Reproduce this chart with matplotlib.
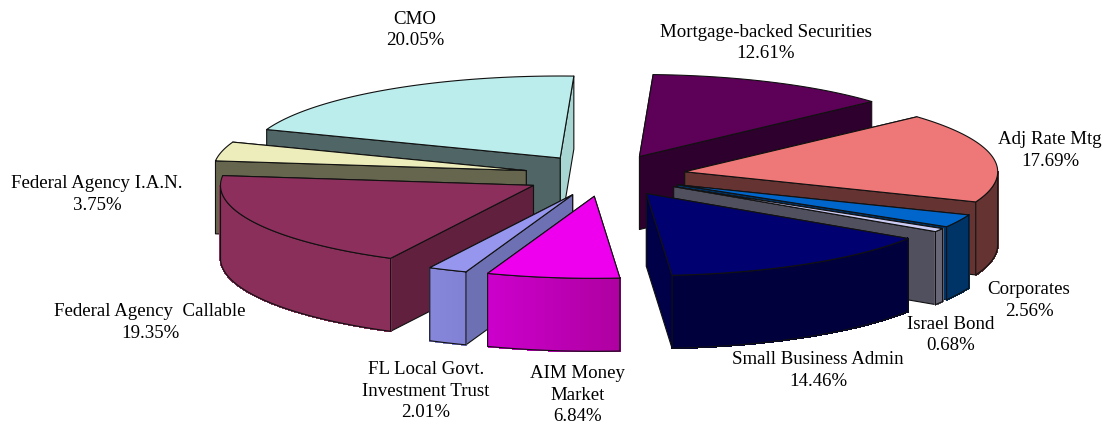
import numpy as np
import matplotlib
matplotlib.use('Agg')
import matplotlib.pyplot as plt
from matplotlib.colors import to_rgb

# Slices, clockwise from the top of the pie
labels = ['Mortgage-backed Securities', 'Adj Rate Mtg', 'Corporates', 'Israel Bond',
          'Small Business Admin', 'AIM Money\nMarket', 'FL Local Govt.\nInvestment Trust',
          'Federal Agency  Callable', 'Federal Agency I.A.N.', 'CMO']
values = [12.61, 17.69, 2.56, 0.68, 14.46, 6.84, 2.01, 19.35, 3.75, 20.05]

# Colours: top, radial faces (start, end), outer rim (left, right)
top_colors = ['#5D0058', '#EE7777', '#0066CC', '#CCCCF5', '#000070',
              '#EE00EE', '#9696EE', '#8C2F5C', '#EDEDBB', '#BBEDEC']
start_colors = ['#2E002D', '#663333', '#003366', '#50505F', '#50505F',
                '#780078', '#6E70B4', '#60203E', '#66664F', '#506566']
end_colors = ['#2E002D', '#663333', '#003366', '#50505F', '#000048',
              '#780078', '#6E70B4', '#60203E', '#66664F', '#A8D6D3']
rim_left = ['#2E002D', '#663333', '#003366', '#666677', '#00003C',
            '#CC00CC', '#8686DA', '#8A2F5A', '#66664F', '#A8D6D3']
rim_right = ['#2E002D', '#663333', '#003366', '#666677', '#00003C',
             '#AE00A0', '#8080D4', '#8A2F5A', '#66664F', '#A8D6D3']

# Back to front, indexes into the lists above
draw_order = [9, 0, 8, 1, 7, 2, 3, 6, 4, 5]

# Label centres in pixels
label_x = [766, 1050, 1029, 951, 818, 578, 426, 150, 97, 415]
label_y = [43, 150.5, 300.5, 335, 370.5, 395, 391, 322.5, 194.5, 30]

# Pie geometry in pixels
cx, cy = 605, 175.5
rx, ry = 313, 82
ex, ey = 81, 21
depth = 73
start_angle = 2.5

fig = plt.figure(figsize=(11.04, 4.25), dpi=100)
ax = fig.add_axes([0, 0, 1, 1])
ax.set_xlim(0, 1104)
ax.set_ylim(425, 0)
ax.axis('off')

edges = start_angle + np.cumsum([0] + values) * 3.6
line_c = '#111111'
lw = 0.8


def face(px, py, fc, z):
    ax.fill(px, py, facecolor=fc, edgecolor=line_c, linewidth=lw, zorder=z, joinstyle='round')


def mix(c1, c2, t):
    a, b = np.array(to_rgb(c1)), np.array(to_rgb(c2))
    return tuple(a + (b - a) * t)


for n, i in enumerate(draw_order):
    a0, a1 = np.radians(edges[i]), np.radians(edges[i + 1])
    mid = (a0 + a1) / 2
    ox = cx + ex * np.sin(mid)
    oy = cy - ey * np.cos(mid)
    t = np.linspace(a0, a1, 80)
    top_x = ox + rx * np.sin(t)
    top_y = oy - ry * np.cos(t)
    z = n * 10 + 1

    # radial faces, the one pointing further back goes first
    faces = [(top_x[0], top_y[0], start_colors[i]), (top_x[-1], top_y[-1], end_colors[i])]
    faces.sort(key=lambda f: f[1])
    for k, (fx, fy, fc) in enumerate(faces):
        face([ox, fx, fx, ox], [oy, fy, fy + depth, oy + depth], fc, z + k)

    # outer rim, only the part facing the viewer
    lo, hi = max(a0, np.pi / 2), min(a1, 3 * np.pi / 2)
    if lo < hi:
        r = np.linspace(lo, hi, 80)
        rim_x = ox + rx * np.sin(r)
        rim_y = oy - ry * np.cos(r)
        xmin, xmax = rim_x.min(), rim_x.max()
        for k in range(len(r) - 1):
            f = ((rim_x[k] + rim_x[k + 1]) / 2 - xmin) / max(xmax - xmin, 1)
            c = mix(rim_left[i], rim_right[i], f)
            ax.fill([rim_x[k], rim_x[k + 1], rim_x[k + 1], rim_x[k]],
                    [rim_y[k], rim_y[k + 1], rim_y[k + 1] + depth, rim_y[k] + depth],
                    facecolor=c, edgecolor=c, linewidth=0.8, antialiased=False, zorder=z + 2)
        ax.plot(np.r_[rim_x, rim_x[::-1], rim_x[0]], np.r_[rim_y, rim_y[::-1] + depth, rim_y[0]],
                color=line_c, linewidth=lw, zorder=z + 3)

    # top
    face(np.r_[ox, top_x], np.r_[oy, top_y], top_colors[i], z + 4)

for lab, v, x, y in zip(labels, values, label_x, label_y):
    ax.text(x, y, f'{lab}\n{v:.2f}%', ha='center', va='center', family='Liberation Serif',
            fontsize=13.6, color='black', linespacing=1.36, zorder=200)

fig.savefig('out.png', dpi=100)
